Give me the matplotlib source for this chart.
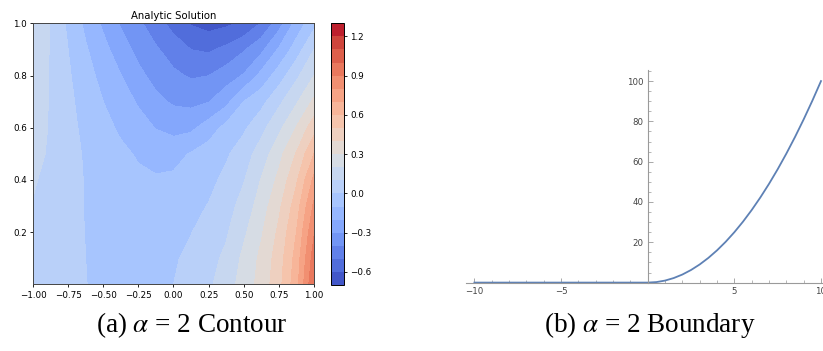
import numpy as np
import matplotlib
matplotlib.use("Agg")
import matplotlib.pyplot as plt
from matplotlib.ticker import FixedLocator, MultipleLocator

plt.rcParams["mathtext.fontset"] = "stix"

# ---- contour panel: solution values ----
grid_x = [-1.0, -0.875, -0.75, -0.625, -0.5, -0.375, -0.25, -0.125, 0.0,
          0.125, 0.25, 0.375, 0.5, 0.625, 0.75, 0.875, 1.0]
grid_y = [0.0, 0.1, 0.2, 0.3, 0.4, 0.5, 0.6, 0.7, 0.8, 0.9, 1.0]

u_rows = [
    [0.06, 0.04, 0.021, 0.002, -0.022, -0.042, -0.048, -0.035, 0.0, 0.041, 0.082, 0.152, 0.242, 0.337, 0.466, 0.662, 1.0],
    [0.07, 0.047, 0.023, 0.0, -0.025, -0.042, -0.05, -0.042, -0.012, 0.024, 0.066, 0.121, 0.223, 0.323, 0.45, 0.638, 0.95],
    [0.08, 0.053, 0.025, -0.002, -0.03, -0.05, -0.06, -0.055, -0.03, -0.003, 0.041, 0.087, 0.182, 0.288, 0.42, 0.6, 0.89],
    [0.095, 0.062, 0.028, -0.004, -0.035, -0.058, -0.07, -0.07, -0.055, -0.03, 0.005, 0.061, 0.136, 0.25, 0.378, 0.55, 0.82],
    [0.11, 0.072, 0.031, -0.005, -0.04, -0.065, -0.082, -0.09, -0.082, -0.06, -0.028, 0.025, 0.094, 0.205, 0.324, 0.486, 0.725],
    [0.125, 0.089, 0.036, -0.011, -0.045, -0.08, -0.11, -0.135, -0.133, -0.092, -0.053, -0.014, 0.053, 0.146, 0.267, 0.407, 0.6],
    [0.135, 0.093, 0.03, -0.024, -0.07, -0.116, -0.161, -0.204, -0.233, -0.223, -0.15, -0.069, -0.017, 0.071, 0.175, 0.306, 0.46],
    [0.145, 0.093, 0.023, -0.04, -0.1, -0.154, -0.211, -0.276, -0.313, -0.326, -0.304, -0.23, -0.1, -0.031, 0.078, 0.188, 0.32],
    [0.15, 0.094, 0.013, -0.062, -0.132, -0.197, -0.275, -0.333, -0.381, -0.411, -0.401, -0.35, -0.291, -0.169, -0.05, 0.079, 0.2],
    [0.155, 0.095, 0.0, -0.089, -0.169, -0.254, -0.329, -0.388, -0.445, -0.501, -0.515, -0.476, -0.411, -0.325, -0.188, -0.05, 0.1],
    [0.16, 0.096, -0.02, -0.122, -0.218, -0.311, -0.381, -0.455, -0.538, -0.609, -0.64, -0.62, -0.586, -0.494, -0.343, -0.164, -0.03],
]

contour_levels = np.round(np.arange(-0.7, 1.31, 0.1), 2)
cbar_ticks = [-0.6, -0.3, 0.0, 0.3, 0.6, 0.9, 1.2]
x_ticks = [-1.0, -0.75, -0.5, -0.25, 0.0, 0.25, 0.5, 0.75, 1.0]
y_ticks = [0.2, 0.4, 0.6, 0.8, 1.0]

# ---- boundary panel: curve ----
boundary_x = [-10, -5, 0, 0.5, 1, 1.5, 2, 2.5, 3, 3.5, 4, 4.5, 5, 5.5, 6,
              6.5, 7, 7.5, 8, 8.5, 9, 9.5, 10]
boundary_y = [0, 0, 0, 0.25, 1, 2.25, 4, 6.25, 9, 12.25, 16, 20.25, 25, 30.25,
              36, 42.25, 49, 56.25, 64, 72.25, 81, 90.25, 100]
bx_major = [-10, -5, 5, 10]
bx_labels = ["\u221210", "\u22125", "5", "10"]
by_major = [20, 40, 60, 80, 100]
by_labels = ["20", "40", "60", "80", "100"]

fig = plt.figure(figsize=(8.23, 3.51), dpi=100)

# contour
ax = fig.add_axes([0.0401, 0.190, 0.3414, 0.7436])
U = np.array(u_rows)
cs = ax.contourf(grid_x, grid_y, U, levels=contour_levels, cmap="coolwarm")
ax.set_xlim(-1, 1)
ax.set_ylim(0, 1)
ax.set_xticks(x_ticks)
ax.set_yticks(y_ticks)
ax.tick_params(labelsize=6.3, length=2.5, width=0.6, pad=2)
for s in ax.spines.values():
    s.set_linewidth(0.7)
    s.set_color("#444444")
ax.set_title("Analytic Solution", fontsize=7.3, pad=3)

cax = fig.add_axes([0.4022, 0.188, 0.0158, 0.7456])
cb = fig.colorbar(cs, cax=cax, ticks=cbar_ticks)
cb.ax.tick_params(labelsize=6.3, length=2.5, width=0.6, pad=2)
cb.outline.set_linewidth(0.7)

# boundary (Mathematica-like axes)
ax2 = fig.add_axes([0.5659, 0.1949, 0.4422, 0.6057])
ax2.plot(boundary_x, boundary_y, color="#5e81b5", lw=1.3, clip_on=False)
ax2.set_xlim(-10.5, 10.5)
ax2.set_ylim(0, 105.5)
ax2.spines["top"].set_visible(False)
ax2.spines["right"].set_visible(False)
ax2.spines["left"].set_position(("data", 0))
for s in ["left", "bottom"]:
    ax2.spines[s].set_color("#9a9a9a")
    ax2.spines[s].set_linewidth(0.8)
ax2.xaxis.set_major_locator(FixedLocator(bx_major))
ax2.set_xticklabels(bx_labels)
ax2.xaxis.set_minor_locator(MultipleLocator(1))
ax2.yaxis.set_major_locator(FixedLocator(by_major))
ax2.set_yticklabels(by_labels)
ax2.yaxis.set_minor_locator(MultipleLocator(5))
ax2.tick_params(which="major", direction="in", length=3.5, width=0.6,
                color="#9a9a9a", labelsize=6.2, labelcolor="#444444", pad=3)
ax2.tick_params(which="minor", direction="in", length=2, width=0.5,
                color="#9a9a9a")
ax2.patch.set_alpha(0)

# captions
fig.text(192 / 823, 1 - 325 / 351, "(a) $\\alpha$ = 2 Contour", ha="center",
         va="center", fontsize=19.5, family="Liberation Serif")
fig.text(650 / 823, 1 - 325 / 351, "(b) $\\alpha$ = 2 Boundary", ha="center",
         va="center", fontsize=19.5, family="Liberation Serif")

fig.savefig("out.png", dpi=100)
